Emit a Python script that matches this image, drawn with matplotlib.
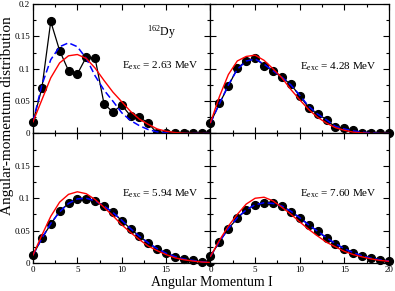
import matplotlib
matplotlib.use("Agg")
import matplotlib.pyplot as plt
from matplotlib.ticker import MultipleLocator, FixedLocator, FixedFormatter

plt.rcParams['font.family'] = ['Liberation Serif', 'DejaVu Serif']
plt.rcParams['mathtext.fontset'] = 'custom'
plt.rcParams['mathtext.rm'] = 'Liberation Serif'
plt.rcParams['mathtext.it'] = 'Liberation Serif:italic'

spin = list(range(21))

# E_exc = 2.63 MeV
dots_263 = [0.018, 0.070, 0.173, 0.128, 0.097, 0.092, 0.118, 0.116, 0.046, 0.033, 0.044,
            0.027, 0.025, 0.016, 0, 0, 0, 0, 0, 0, 0]
blue_263 = [0.018, 0.075, 0.114, 0.134, 0.140, 0.134, 0.116, 0.089, 0.067, 0.050, 0.032,
            0.020, 0.012, 0.006, 0.0025, 0.001, 0, 0, 0, 0, 0]
red_263 = [0.018, 0.052, 0.086, 0.109, 0.120, 0.122, 0.116, 0.101, 0.082, 0.064, 0.049,
           0.034, 0.022, 0.014, 0.007, 0.0035, 0.0015, 0.0005, 0, 0, 0]

# E_exc = 4.28 MeV
dots_428 = [0.0165, 0.0464, 0.0732, 0.1005, 0.1124, 0.117, 0.1046, 0.0969, 0.0866, 0.0758, 0.0582,
            0.0397, 0.0299, 0.0216, 0.0093, 0.0082, 0.0052, 0.0015, 0, 0, 0]
blue_428 = [0.0165, 0.046, 0.075, 0.099, 0.112, 0.115, 0.107, 0.097, 0.087, 0.075, 0.059,
            0.042, 0.030, 0.021, 0.011, 0.007, 0.004, 0.002, 0.001, 0, 0]
red_428 = [0.017, 0.057, 0.091, 0.112, 0.119, 0.121, 0.113, 0.100, 0.086, 0.068, 0.052,
           0.037, 0.025, 0.016, 0.009, 0.005, 0.002, 0.001, 0, 0, 0]

# E_exc = 5.94 MeV
dots_594 = [0.0124, 0.038, 0.060, 0.080, 0.092, 0.099, 0.099, 0.0954, 0.0876, 0.078, 0.0655,
            0.0526, 0.0412, 0.031, 0.0216, 0.0155, 0.0093, 0.0067, 0.004, 0.002, 0.001]
blue_594 = [0.0124, 0.038, 0.061, 0.079, 0.092, 0.099, 0.100, 0.096, 0.088, 0.078, 0.066,
            0.053, 0.041, 0.031, 0.022, 0.015, 0.010, 0.006, 0.004, 0.002, 0.001]
red_594 = [0.0124, 0.043, 0.072, 0.094, 0.106, 0.110, 0.107, 0.098, 0.086, 0.073, 0.059,
           0.047, 0.036, 0.026, 0.019, 0.013, 0.008, 0.005, 0.003, 0.0015, 0.0008]

# E_exc = 7.60 MeV
dots_760 = [0.0104, 0.0328, 0.053, 0.069, 0.082, 0.090, 0.0927, 0.092, 0.0885, 0.079, 0.070,
            0.059, 0.049, 0.0385, 0.0297, 0.0219, 0.0156, 0.011, 0.0073, 0.0052, 0.0026]
blue_760 = [0.0104, 0.033, 0.053, 0.070, 0.082, 0.090, 0.093, 0.092, 0.088, 0.080, 0.070,
            0.059, 0.049, 0.039, 0.030, 0.022, 0.016, 0.011, 0.0075, 0.005, 0.003]
red_760 = [0.0104, 0.035, 0.057, 0.075, 0.091, 0.100, 0.1016, 0.096, 0.086, 0.0755, 0.0635,
           0.052, 0.0417, 0.032, 0.025, 0.018, 0.013, 0.0094, 0.0063, 0.004, 0.0026]

labels = ["2.63", "4.28", "5.94", "7.60"]
text_y = [0.1, 0.099, 0.103, 0.102]

fig = plt.figure(figsize=(3.95, 2.91), dpi=100)
W, H = 395.0, 291.0
x0, x1, x2 = 33 / W, 210.5 / W, 389 / W
y0, y1, y2 = 1 - 263 / H, 1 - 133.5 / H, 1 - 4 / H

axes = [
    fig.add_axes([x0, y1, x1 - x0, y2 - y1]),
    fig.add_axes([x1, y1, x2 - x1, y2 - y1]),
    fig.add_axes([x0, y0, x1 - x0, y1 - y0]),
    fig.add_axes([x1, y0, x2 - x1, y1 - y0]),
]
data = [(dots_263, blue_263, red_263), (dots_428, blue_428, red_428),
        (dots_594, blue_594, red_594), (dots_760, blue_760, red_760)]

for k, ax in enumerate(axes):
    dots, blue, red = data[k]
    ax.plot(spin, dots, color="black", lw=0.9, marker="o", ms=5.6, zorder=2, clip_on=False)
    ax.plot(spin, blue, color="#0000ff", lw=1.1, dashes=(4.5, 2.2), zorder=3)
    ax.plot(spin, red, color="#ff0000", lw=1.0, zorder=4)
    ax.set_xlim(0, 20)
    ax.set_ylim(0, 0.2)
    ax.xaxis.set_major_locator(MultipleLocator(5))
    ax.xaxis.set_minor_locator(MultipleLocator(2.5))
    ax.yaxis.set_major_locator(MultipleLocator(0.05))
    ax.yaxis.set_minor_locator(MultipleLocator(0.025))
    ax.tick_params(which="both", direction="in", top=True, right=True, labelsize=6.5, pad=2)
    ax.tick_params(which="major", length=4, width=0.8)
    ax.tick_params(which="minor", length=2.5, width=0.8)
    for s in ax.spines.values():
        s.set_linewidth(0.9)
    ax.text(10, text_y[k], r"E$_{\mathrm{exc}}$ = " + labels[k] + " MeV",
            fontsize=8, va="baseline", ha="left")
    if k % 2 == 1:
        ax.set_yticklabels([])
    if k < 2:
        ax.set_xticklabels([])

axes[0].yaxis.set_major_locator(FixedLocator([0, 0.05, 0.1, 0.15, 0.2]))
axes[0].yaxis.set_major_formatter(FixedFormatter(["0", "0.05", "0.1", "0.15", "0.2"]))
axes[2].yaxis.set_major_locator(FixedLocator([0, 0.05, 0.1, 0.15, 0.2]))
axes[2].yaxis.set_major_formatter(FixedFormatter(["0", "0.05", "0.1", "0.15", ""]))
axes[2].xaxis.set_major_locator(FixedLocator([0, 5, 10, 15, 20]))
axes[2].xaxis.set_major_formatter(FixedFormatter(["0", "5", "10", "15", ""]))

axes[0].text(12.9, 0.151, r"$^{162}$Dy", fontsize=8.5, va="baseline", ha="left")

fig.text(211.5 / W, 1 - 286 / H, "Angular Momentum I", fontsize=10, ha="center", va="baseline")
fig.text(8 / W, 1 - 116 / H, "Angular-momentum distribution", fontsize=11,
         rotation=90, ha="center", va="center")

fig.savefig("out.png", dpi=100)
